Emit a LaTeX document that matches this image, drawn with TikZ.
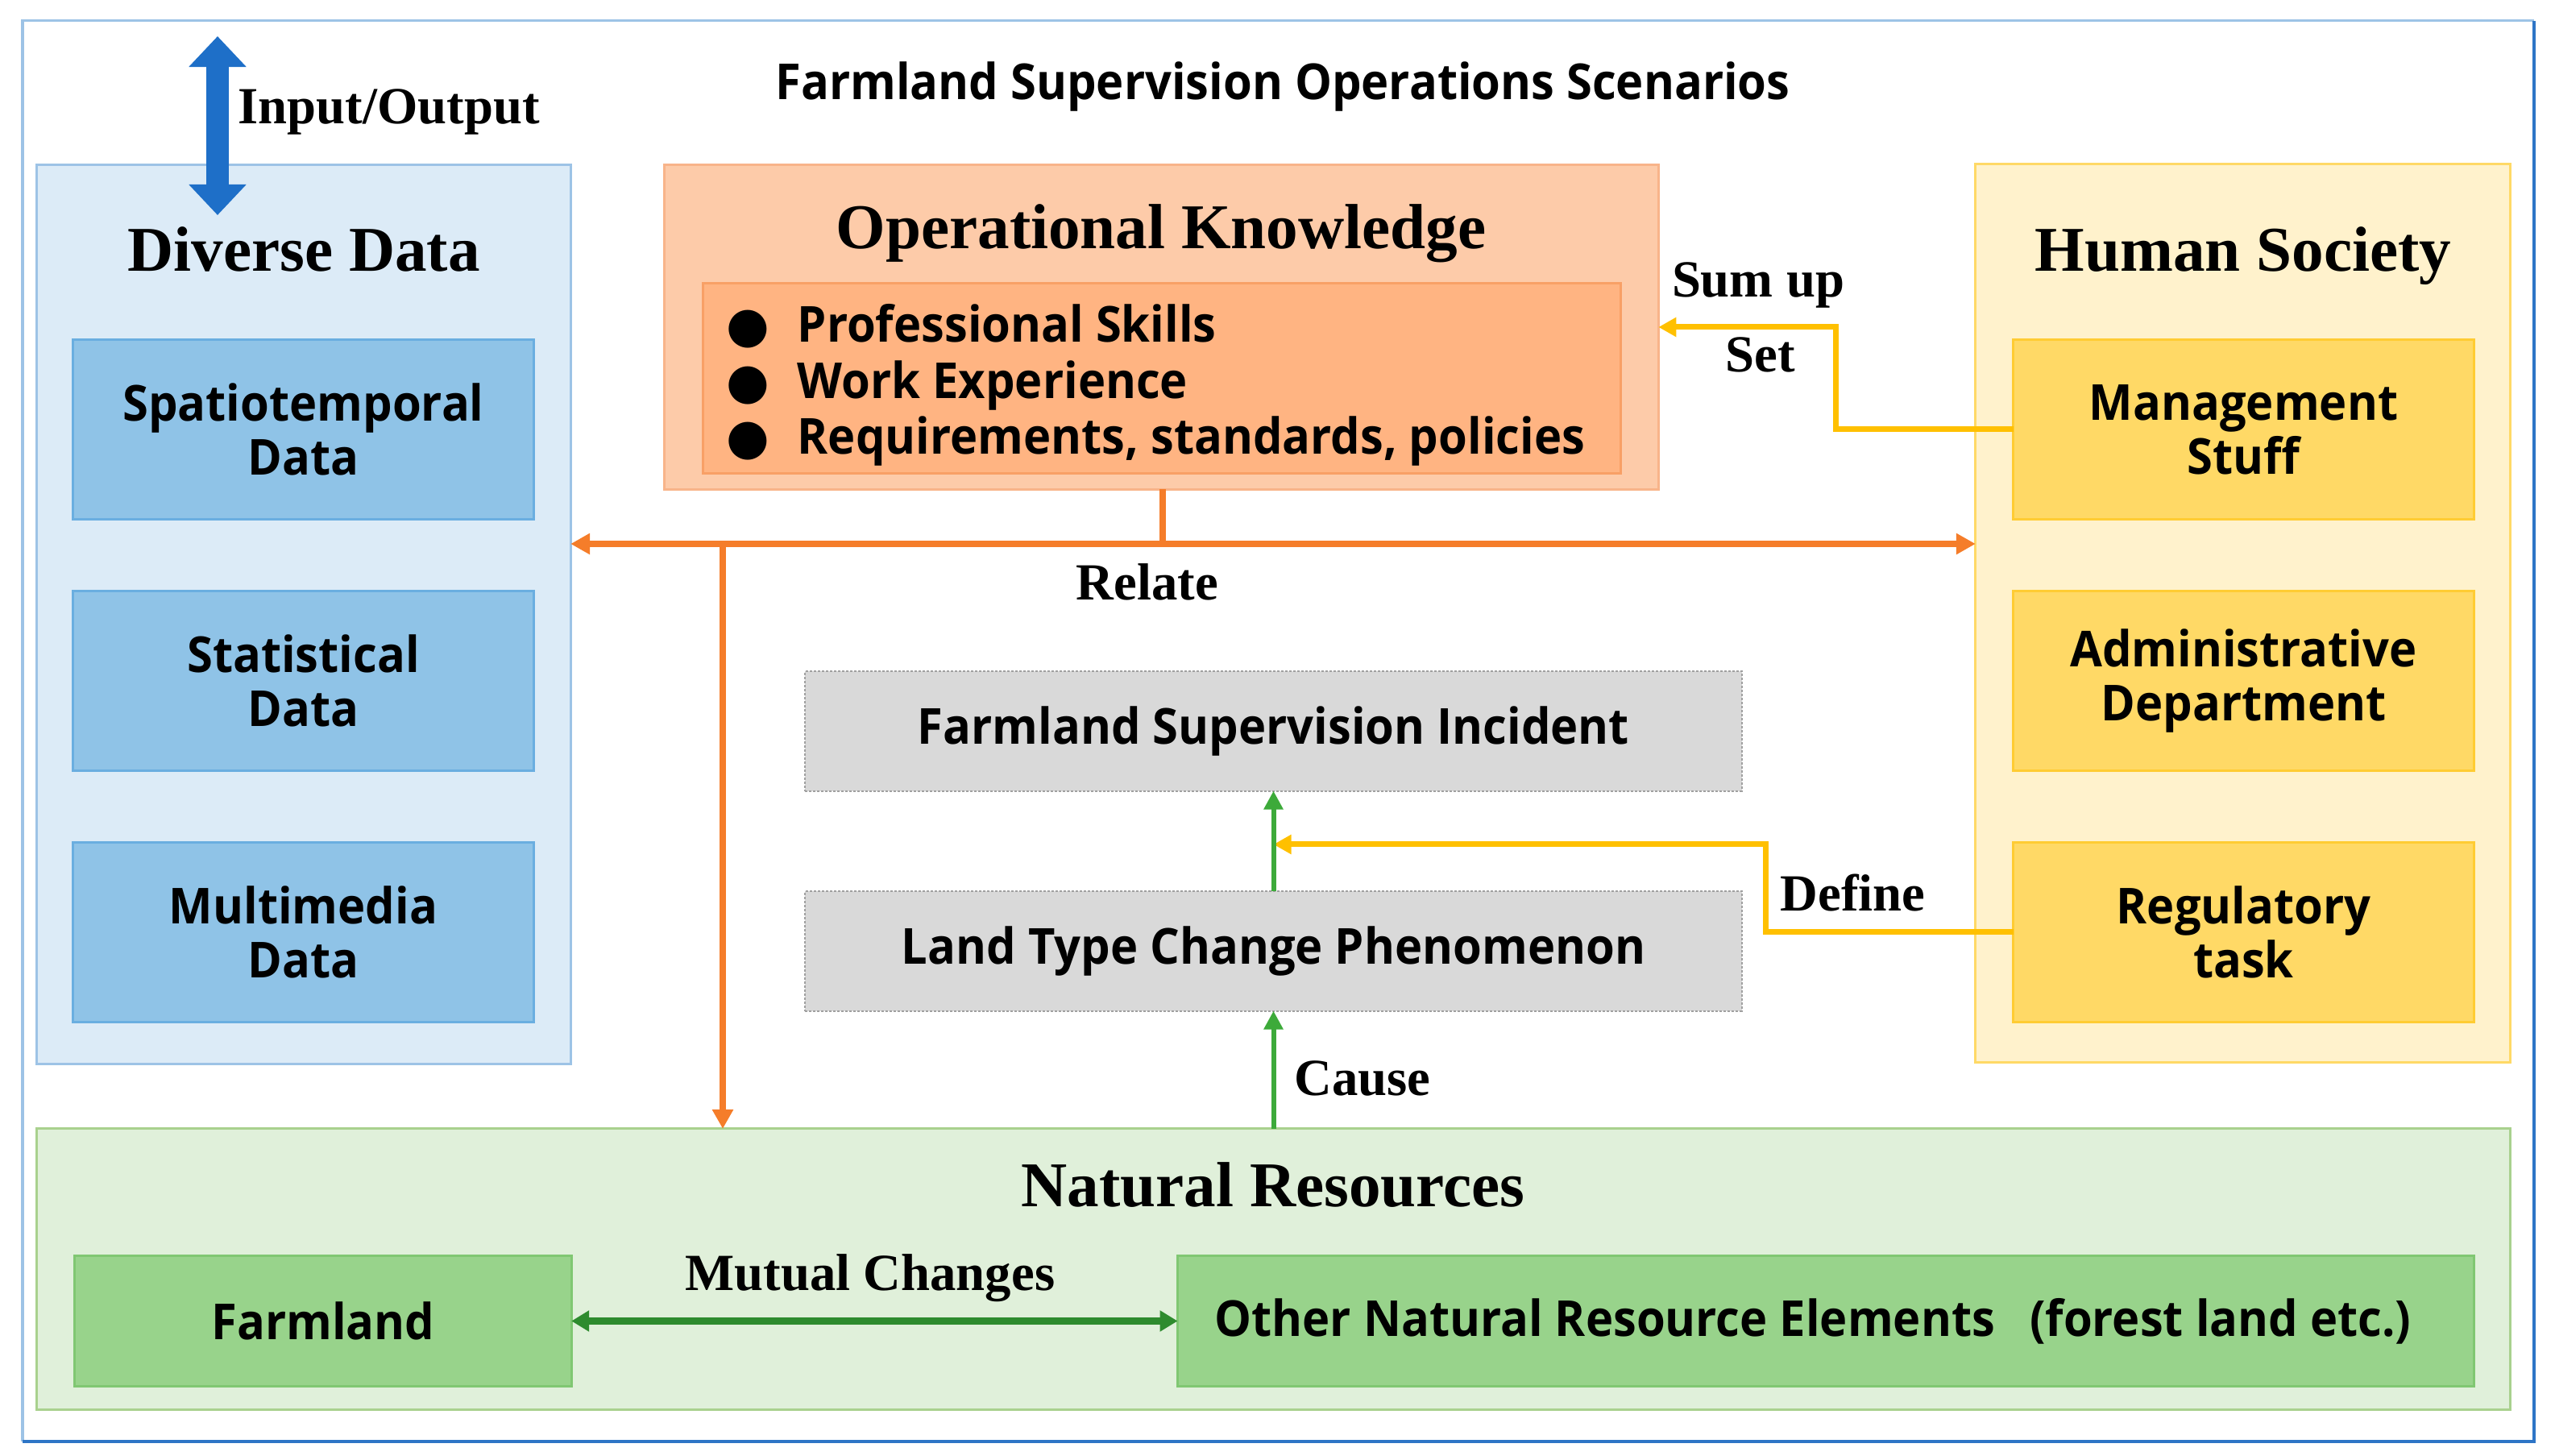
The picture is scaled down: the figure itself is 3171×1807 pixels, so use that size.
\documentclass[tikz,border=0pt]{standalone}
\usepackage{fontspec}
\setmainfont{Liberation Serif}
\newfontfamily\osans{Open Sans}[FakeStretch=0.94]
\newfontfamily\djv{DejaVu Sans}
\usetikzlibrary{arrows.meta,calc}
\definecolor{ddfill}{HTML}{DCEBF7}
\definecolor{ddline}{HTML}{9DC3E6}
\definecolor{dbfill}{HTML}{8FC3E7}
\definecolor{dbline}{HTML}{6AAEE0}
\definecolor{okfill}{HTML}{FDCBA9}
\definecolor{okline}{HTML}{F8B48A}
\definecolor{oifill}{HTML}{FFB482}
\definecolor{oiline}{HTML}{F8A066}
\definecolor{hsfill}{HTML}{FFF2CC}
\definecolor{hsline}{HTML}{FFD966}
\definecolor{hifill}{HTML}{FFD966}
\definecolor{hiline}{HTML}{FFCC33}
\definecolor{grfill}{HTML}{D9D9D9}
\definecolor{grline}{HTML}{A0A0A0}
\definecolor{nrfill}{HTML}{E0F0DA}
\definecolor{nrline}{HTML}{A9D18E}
\definecolor{nifill}{HTML}{98D38B}
\definecolor{niline}{HTML}{80C772}
\definecolor{orangec}{HTML}{F57D2A}
\definecolor{yellowc}{HTML}{FFC000}
\definecolor{greenc}{HTML}{3DAA3A}
\definecolor{dgreenc}{HTML}{2E8B2E}
\definecolor{bluec}{HTML}{1E6FC8}
\definecolor{framel}{HTML}{9DC3E6}
\definecolor{framed}{HTML}{2E75C6}
\begin{document}
\begin{tikzpicture}[x=0.01cm,y=-0.01cm,
  box/.style={rectangle, line width=0.03cm, inner sep=0pt, outer sep=0pt, align=center,
    font={\osans\bfseries\fontsize{17.5}{19.1}\selectfont}},
  ddbox/.style={box, fill=ddfill, draw=ddline, minimum width=6.62cm, minimum height=11.15cm},
  dbbox/.style={box, fill=dbfill, draw=dbline, minimum width=5.71cm, minimum height=2.22cm},
  hsbox/.style={box, fill=hsfill, draw=hsline, minimum width=6.63cm, minimum height=11.14cm},
  hibox/.style={box, fill=hifill, draw=hiline, minimum width=5.71cm, minimum height=2.22cm},
  grbox/.style={box, fill=grfill, draw=grline, line width=0.02cm, dash pattern=on 0.03cm off 0.02cm,
    minimum width=11.63cm, minimum height=1.48cm},
  head/.style={font={\bfseries\fontsize{22.5}{27}\selectfont}, inner sep=0pt, anchor=base},
  lab/.style={font={\bfseries\fontsize{18.4}{22}\selectfont}, inner sep=0pt, anchor=base},
  sanslab/.style={font={\osans\bfseries\fontsize{17.5}{19.1}\selectfont}, inner sep=0pt, anchor=base},
  oarrow/.style={draw=orangec, line width=0.08cm},
  otip/.style={arrows={-Triangle[length=0.24cm,width=0.25cm]}},
  yarrow/.style={draw=yellowc, line width=0.07cm, arrows={-Triangle[length=0.22cm,width=0.23cm]}},
  garrow/.style={draw=greenc, line width=0.06cm, arrows={-Triangle[length=0.23cm,width=0.23cm]}},
  dgarrow/.style={draw=dgreenc, line width=0.09cm,
    arrows={Triangle[length=0.22cm,width=0.25cm]-Triangle[length=0.22cm,width=0.25cm]}},
  barrow/.style={draw=bluec, line width=0.28cm,
    arrows={Triangle[length=0.38cm,width=0.69cm]-Triangle[length=0.38cm,width=0.69cm]}}
]
\useasboundingbox (0,0) rectangle (3171,1807);
% outer frame
\draw[framel, line width=0.03cm] (28,1789) -- (28,26) -- (3145,26);
\draw[framed, line width=0.04cm] (3145,26) -- (3145,1789) -- (28,1789);

% title
\node[sanslab] (title) at (1592,124) {Farmland Supervision Operations Scenarios};

% Diverse data
\node[ddbox] (DD) at (377,762.5) {};
\node[head] (DDt) at (377,337) {Diverse Data};
\node[dbbox] (DD1) at (376.5,533) {Spatiotemporal\\Data};
\node[dbbox] (DD2) at (376.5,845) {Statistical\\Data};
\node[dbbox] (DD3) at (376.5,1157) {Multimedia\\Data};

% input/output arrow
\coordinate (io1) at (270,45);
\coordinate (io2) at (270,267);
\draw[barrow] (io1) -- (io2);
\node[lab, anchor=base west] (iolab) at (295,154) {Input/Output};

% Human society
\node[hsbox] (HS) at (2783.5,761) {};
\node[head] (HSt) at (2784,337) {Human Society};
\node[hibox] (MS) at (2784.5,533) {Management\\Stuff};
\node[hibox] (AD) at (2784.5,845) {Administrative\\Department};
\node[hibox] (RT) at (2784.5,1157) {Regulatory\\task};

% Operational knowledge
\node[box, fill=okfill, draw=okline, minimum width=12.33cm, minimum height=4.02cm] (OK) at (1441.5,406) {};
\node[head] (OKt) at (1441,309) {Operational Knowledge};
\node[box, fill=oifill, draw=oiline, minimum width=11.38cm, minimum height=2.35cm] (OKi) at (1442,469.5) {};
\node[font={\osans\bfseries\fontsize{17.5}{19.9}\selectfont}, align=left, inner sep=0pt, anchor=base west] (OKl) at (911,564)
  {\makebox[0.78cm][l]{\hspace*{-0.1cm}\djv ●}Professional Skills\\
   \makebox[0.78cm][l]{\hspace*{-0.1cm}\djv ●}Work Experience\\
   \makebox[0.78cm][l]{\hspace*{-0.1cm}\djv ●}Requirements, standards, policies};

% grey boxes
\node[grbox] (FSI) at (1580.5,907.5) {Farmland Supervision Incident};
\node[grbox] (LTC) at (1580.5,1180.5) {Land Type Change Phenomenon};

% Natural resources
\node[box, fill=nrfill, draw=nrline, minimum width=30.69cm, minimum height=3.48cm] (NR) at (1580.5,1575) {};
\node[head] (NRt) at (1580,1498) {Natural Resources};
\node[box, fill=nifill, draw=niline, minimum width=6.16cm, minimum height=1.61cm] (FL) at (401,1639.5) {Farmland};
\node[box, fill=nifill, draw=niline, minimum width=16.08cm, minimum height=1.61cm] (ONR) at (2266,1639.5)
  {Other Natural Resource Elements\hspace{0.7em}(forest land etc.)\hspace*{0.32cm}};

% relate connectors
\coordinate (rj) at (1443,675);
\coordinate (rk) at (897,675);
\draw[oarrow] (OK.south -| rj) -- (rj);
\draw[oarrow, arrows={Triangle[length=0.24cm,width=0.25cm]-Triangle[length=0.24cm,width=0.25cm]}] (DD.east |- rj) -- (HS.west |- rj);
\draw[oarrow, otip] (rk) -- (rk |- NR.north);
\node[lab] (relate) at (1424,745) {Relate};

% sum up / set
\coordinate (su) at (2278,406);
\draw[yarrow] (MS.west) -| (su) -- (OK.east |- su);
\node[lab] (sumup) at (2182,369) {Sum up};
\node[lab] (set) at (2185,462) {Set};

% define
\coordinate (df) at (2191,1048);
\draw[yarrow] (RT.west) -| (df) -- (df -| LTC.north);
\node[lab, anchor=base west] (define) at (2209,1131) {Define};

% green arrows
\draw[garrow] (LTC.north) -- (FSI.south);
\draw[garrow] (NR.north -| LTC.south) -- (LTC.south);
\node[lab, anchor=base west] (cause) at (1606,1360) {Cause};

% mutual changes
\draw[dgarrow] (FL.east) -- (ONR.west);
\node[lab] (mutual) at (1080,1602) {Mutual Changes};
\end{tikzpicture}
\end{document}
